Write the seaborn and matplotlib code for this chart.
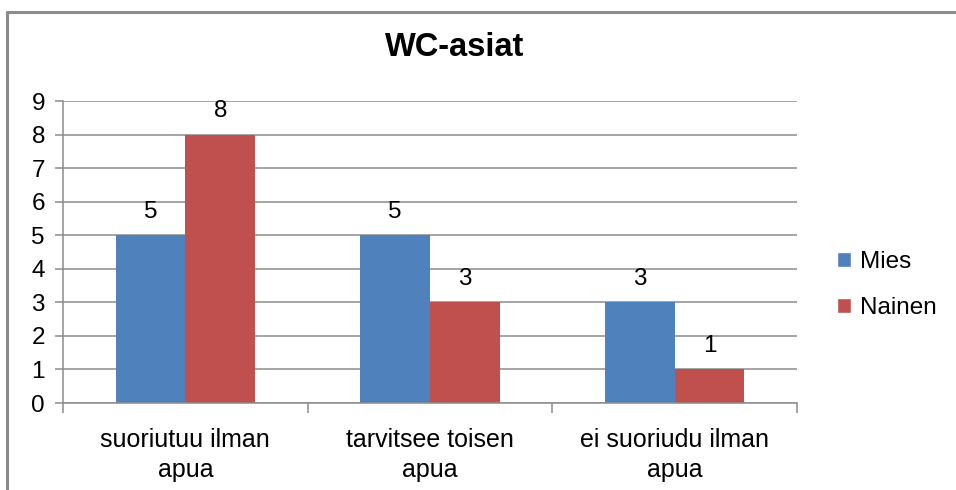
import matplotlib
matplotlib.use("Agg")
import matplotlib.pyplot as plt
import seaborn as sns
import pandas as pd
from matplotlib.patches import Rectangle
from matplotlib.lines import Line2D

categories = ["suoriutuu ilman\napua", "tarvitsee toisen\napua", "ei suoriudu ilman\napua"]
series_names = ["Mies", "Nainen"]
mies = [5, 5, 3]
nainen = [8, 3, 1]
colors = ["#4F81BD", "#C0504D"]
title = "WC-asiat"

df = pd.DataFrame({
    "cat": categories * 2,
    "val": mies + nainen,
    "ser": [series_names[0]] * 3 + [series_names[1]] * 3,
})

sns.set_theme(style="white")
plt.rcParams["font.family"] = ["Liberation Sans", "DejaVu Sans"]
plt.rcParams["text.color"] = "black"
plt.rcParams["xtick.color"] = "black"
plt.rcParams["ytick.color"] = "black"

fig = plt.figure(figsize=(9.56, 4.9), dpi=100)
ax = fig.add_axes([63/956, 1-403/490, (797-63)/956, (403-101)/490])

sns.barplot(data=df, x="cat", y="val", hue="ser", order=categories,
            hue_order=series_names, palette=colors, width=0.57,
            saturation=1, ax=ax, legend=False, zorder=2, linewidth=0,
            edgecolor="none")

for c in ax.containers:
    ax.bar_label(c, labels=[f"{int(v)}" for v in c.datavalues],
                 padding=9, fontsize=17.5, color="black")

ax.set_ylim(0, 9)
ax.set_xlim(-0.5, 2.5)
ax.set_yticks(range(0, 10))
ax.yaxis.grid(True, color="#8c8c8c", linewidth=1.1, zorder=0)
ax.set_axisbelow(True)
ax.set_xlabel("")
ax.set_ylabel("")
for s in ["top", "right"]:
    ax.spines[s].set_visible(False)
for s in ["left", "bottom"]:
    ax.spines[s].set_color("#8c8c8c")
    ax.spines[s].set_linewidth(1.1)
ax.tick_params(axis="y", length=6, color="#8c8c8c", width=1.1, labelsize=17.5,
               pad=7, left=True, labelcolor="black")
ax.tick_params(axis="x", which="major", length=0, labelsize=18, pad=18,
               labelcolor="black")
ax.set_xticks([-0.5, 0.5, 1.5, 2.5], minor=True)
ax.tick_params(axis="x", which="minor", length=7, color="#8c8c8c", width=1.1,
               bottom=True)
for lbl in ax.get_xticklabels():
    lbl.set_linespacing(1.3)

fig.text(455/956, 1-48/490, title, ha="center", va="center",
         fontsize=23.5, fontweight="bold", color="black")

handles = [Rectangle((0, 0), 1, 1, facecolor=c) for c in colors]
leg = fig.legend(handles, series_names, loc="center left",
                 bbox_to_anchor=(815/956, 1-285/490), frameon=False,
                 fontsize=17.5, handlelength=0.6, handleheight=0.6,
                 handletextpad=0.35, labelspacing=1.0)

fig.add_artist(Line2D([7/956, 7/956], [0, 1-12/490], transform=fig.transFigure,
                      color="#8c8c8c", linewidth=2.2))
fig.add_artist(Line2D([7/956, 1], [1-12/490, 1-12/490], transform=fig.transFigure,
                      color="#8c8c8c", linewidth=2.2))

fig.savefig("out.png", dpi=100)
